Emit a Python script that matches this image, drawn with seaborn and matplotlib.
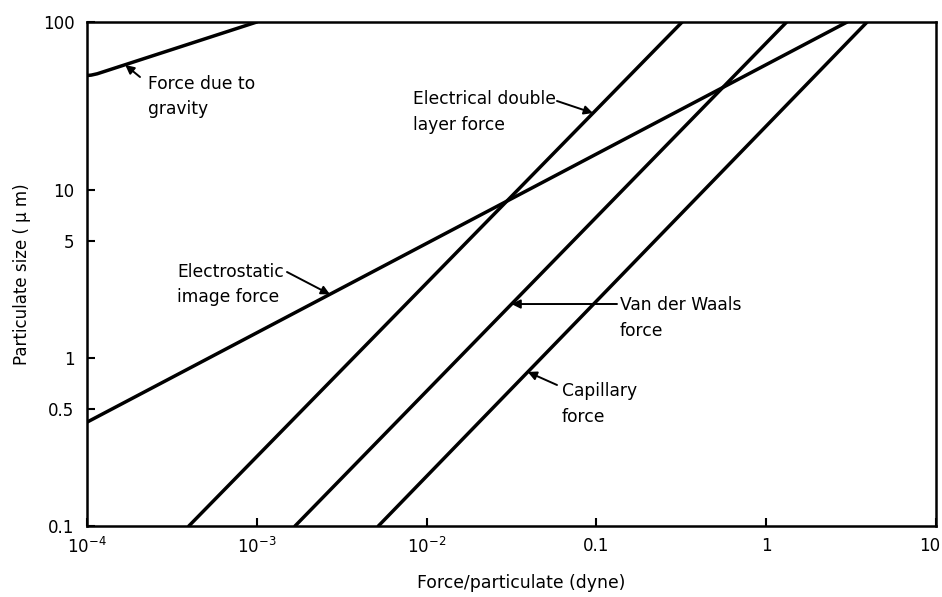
import numpy as np
import pandas as pd
import matplotlib
matplotlib.use("Agg")
import matplotlib.pyplot as plt
import matplotlib.transforms as mtransforms
import seaborn as sns

# ---- data (log-log chart) ----
gravity_force = [1e-4, 1.06e-4, 1.15e-4, 1e-3]
gravity_size = [48.0, 48.3, 49.2, 100.0]

electrostatic_force = [1e-4, 3.0]
electrostatic_size = [0.415, 100.0]

double_layer_force = [3.98e-4, 0.32]
double_layer_size = [0.1, 100.0]

van_der_waals_force = [1.68e-3, 1.32]
van_der_waals_size = [0.1, 100.0]

capillary_force = [5.2e-3, 3.93]
capillary_size = [0.1, 100.0]

series_names = ["Force due to gravity", "Electrostatic image force",
                "Electrical double layer force", "Van der Waals force",
                "Capillary force"]

x_ticks = [1e-4, 1e-3, 1e-2, 0.1, 1, 10]
x_tick_labels = [r"10$^{\mathregular{-4}}$", r"10$^{\mathregular{-3}}$",
                 r"10$^{\mathregular{-2}}$", "0.1", "1", "10"]
y_ticks = [0.1, 0.5, 1, 5, 10, 100]
y_tick_labels = ["0.1", "0.5", "1", "5", "10", "100"]

# ---- long table for seaborn ----
frames = []
for name, fx, fy in zip(series_names,
                        [gravity_force, electrostatic_force, double_layer_force,
                         van_der_waals_force, capillary_force],
                        [gravity_size, electrostatic_size, double_layer_size,
                         van_der_waals_size, capillary_size]):
    frames.append(pd.DataFrame({"force": fx, "size": fy, "series": name}))
df = pd.concat(frames, ignore_index=True)

sns.set_theme(style="ticks")
plt.rcParams["font.family"] = ["DejaVu Sans"]

fig = plt.figure(figsize=(9.42, 5.97), dpi=100)
ax = fig.add_axes([87 / 942, 1 - 526 / 597, 849 / 942, 504 / 597])

sns.lineplot(data=df, x="force", y="size", hue="series", units="series",
             estimator=None, sort=False, palette=["black"] * 5,
             legend=False, linewidth=2.5, ax=ax)

ax.set_xscale("log")
ax.set_yscale("log")
ax.set_xlim(1e-4, 10)
ax.set_ylim(0.1, 100)
ax.minorticks_off()
ax.set_xticks(x_ticks)
ax.set_xticklabels(x_tick_labels)
ax.set_yticks(y_ticks)
ax.set_yticklabels(y_tick_labels)
ax.tick_params(axis="both", which="major", direction="in", length=6,
               width=1.5, color="black", labelsize=12, labelcolor="black")
ax.tick_params(axis="x", pad=8)
ax.tick_params(axis="y", pad=9)
last = ax.get_xticklabels()[-1]
last.set_transform(last.get_transform() +
                   mtransforms.ScaledTranslation(-6 / 100, 0, fig.dpi_scale_trans))
for s in ax.spines.values():
    s.set_visible(True)
    s.set_linewidth(1.8)
    s.set_color("black")

ax.set_xlabel("Force/particulate (dyne)", fontsize=12.4, color="black")
ax.set_ylabel("Particulate size ( \u03bc m)", fontsize=12, color="black")
ax.xaxis.label.set_va("center")
ax.yaxis.label.set_va("center")
ax.xaxis.set_label_coords(0.511, -0.113)
ax.yaxis.set_label_coords(-0.0766, 0.5)

# ---- annotations ----
W, H = 849, 504
def frac(px, py):
    return ((px - 87) / W, (526 - py) / H)

STEP = 26  # pixel distance between the two text lines
notes = [
    ("Force due to\ngravity", frac(148, 83), frac(140, 77), (1.68e-4, 55.5)),
    ("Electrical double\nlayer force", frac(413, 98), frac(557, 101), (0.0955, 28.7)),
    ("Electrostatic\nimage force", frac(177, 271), frac(287, 272), (2.7e-3, 2.39)),
    ("Van der Waals\nforce", frac(620, 304), frac(617, 304), (0.0316, 2.095)),
    ("Capillary\nforce", frac(562, 390), frac(557, 385), (0.0394, 0.826)),
]
for text, tpos, tail, tip in notes:
    # baseline alignment refers to the last line of a multi-line text
    ax.text(tpos[0], tpos[1] - (5.5 + STEP) / H, text, transform=ax.transAxes,
            ha="left", va="baseline", fontsize=12.3, linespacing=1.55,
            color="black")
    ax.annotate("", xy=tip, xycoords="data", xytext=tail,
                textcoords="axes fraction",
                arrowprops=dict(arrowstyle="-|>", color="black", lw=1.4,
                                mutation_scale=13, shrinkA=0, shrinkB=0))

fig.savefig("out.png", dpi=100, facecolor="white")
